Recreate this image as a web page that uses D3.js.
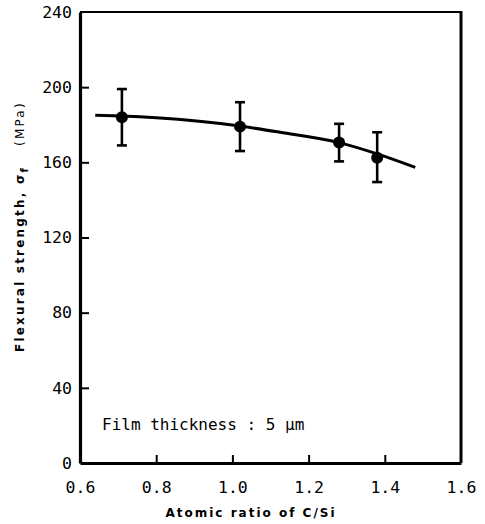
<!DOCTYPE html>
<html>
<head>
<meta charset="utf-8">
<script src="https://cdn.jsdelivr.net/npm/d3@7/dist/d3.min.js"></script>
<style>
  html, body { margin: 0; padding: 0; background: #fff; }
  svg { display: block; }
</style>
</head>
<body>
<script>
// ---- data ----
const xTicks = [0.6, 0.8, 1.0, 1.2, 1.4, 1.6];
const yTicks = [0, 40, 80, 120, 160, 200, 240];
const ratioCSi = [0.71, 1.02, 1.28, 1.38];
const strengthMean = [184, 179, 170.5, 162.5];
const strengthHigh = [199, 192, 180.5, 176];
const strengthLow = [169, 166, 160.5, 149.5];
const fitX = [0.64, 0.71, 0.8, 1.02, 1.125, 1.28, 1.38, 1.48];
const fitY = [185, 184.6, 183.7, 179.3, 176, 170.5, 164.5, 157.3];
const annotation = "Film thickness : 5 µm";

const W = 485, H = 524;
const m = { left: 80, right: 24, top: 12, bottom: 61 };

const svg = d3.select("body").append("svg")
  .attr("width", W).attr("height", H);

const x = d3.scaleLinear().domain([0.6, 1.6]).range([m.left, W - m.right]);
const y = d3.scaleLinear().domain([0, 240]).range([H - m.bottom, m.top]);

const tickFont = "'DejaVu Sans Mono', monospace";

// frame: top and right
svg.append("line").attr("x1", x(0.6)).attr("x2", x(1.6)).attr("y1", y(240)).attr("y2", y(240))
  .attr("stroke", "#000").attr("stroke-width", 2.2);
svg.append("line").attr("x1", x(1.6)).attr("x2", x(1.6)).attr("y1", y(240) - 1).attr("y2", y(0))
  .attr("stroke", "#000").attr("stroke-width", 3);

// x axis
const gx = svg.append("g").attr("transform", `translate(0,${y(0)})`)
  .call(d3.axisBottom(x).tickValues(xTicks).tickFormat(d3.format(".1f"))
    .tickSize(-8).tickPadding(18).tickSizeOuter(0));
gx.select(".domain").attr("stroke-width", 3.2);
gx.selectAll(".tick line").attr("stroke-width", 2)
  .filter(d => d === 0.6 || d === 1.6).remove();
gx.selectAll(".tick text").attr("font-family", tickFont).attr("font-size", 16.5).attr("fill", "#000");

// y axis
const gy = svg.append("g").attr("transform", `translate(${x(0.6)},0)`)
  .call(d3.axisLeft(y).tickValues(yTicks).tickFormat(d3.format("d"))
    .tickSize(-9).tickPadding(8).tickSizeOuter(0));
gy.select(".domain").attr("stroke-width", 3.2);
gy.selectAll(".tick line").attr("stroke-width", 2)
  .filter(d => d === 0 || d === 240).remove();
gy.selectAll(".tick text").attr("font-family", tickFont).attr("font-size", 16.5).attr("fill", "#000");

// fitted curve
const fit = fitX.map((v, i) => [v, fitY[i]]);
svg.append("path").datum(fit)
  .attr("fill", "none").attr("stroke", "#000").attr("stroke-width", 3)
  .attr("d", d3.line().x(d => x(d[0])).y(d => y(d[1])).curve(d3.curveMonotoneX));

// error bars
const pts = ratioCSi.map((v, i) => ({ x: v, m: strengthMean[i], hi: strengthHigh[i], lo: strengthLow[i] }));
const eb = svg.append("g").attr("stroke", "#000").attr("stroke-width", 2.6);
eb.selectAll(".v").data(pts).join("line")
  .attr("x1", d => x(d.x)).attr("x2", d => x(d.x))
  .attr("y1", d => y(d.hi)).attr("y2", d => y(d.lo));
eb.selectAll(".ct").data(pts).join("line")
  .attr("x1", d => x(d.x) - 5).attr("x2", d => x(d.x) + 5)
  .attr("y1", d => y(d.hi)).attr("y2", d => y(d.hi));
eb.selectAll(".cb").data(pts).join("line")
  .attr("x1", d => x(d.x) - 5).attr("x2", d => x(d.x) + 5)
  .attr("y1", d => y(d.lo)).attr("y2", d => y(d.lo));

// markers
svg.append("g").selectAll("circle").data(pts).join("circle")
  .attr("cx", d => x(d.x)).attr("cy", d => y(d.m)).attr("r", 6).attr("fill", "#000");

// annotation
svg.append("text").attr("x", 102).attr("y", 430)
  .attr("font-family", tickFont).attr("font-size", 16).attr("fill", "#000")
  .text(annotation);

// x title
svg.append("text").attr("x", 251).attr("y", 517).attr("text-anchor", "middle")
  .attr("font-family", "'DejaVu Sans', sans-serif").attr("font-weight", "bold")
  .attr("font-size", 12).attr("letter-spacing", 2).attr("fill", "#000")
  .text("Atomic ratio of C/Si");

// y title
const yt = svg.append("text").attr("transform", "translate(24,352) rotate(-90)")
  .attr("font-family", "'DejaVu Sans', sans-serif").attr("font-weight", "bold")
  .attr("font-size", 12).attr("letter-spacing", 2.2).attr("fill", "#000");
yt.append("tspan").text("Flexural strength, σ");
yt.append("tspan").attr("dy", 4).attr("font-size", 10).text("f");
yt.append("tspan").attr("dy", -4).attr("dx", 20).attr("font-weight", "normal").text("(MPa)");
</script>
</body>
</html>
